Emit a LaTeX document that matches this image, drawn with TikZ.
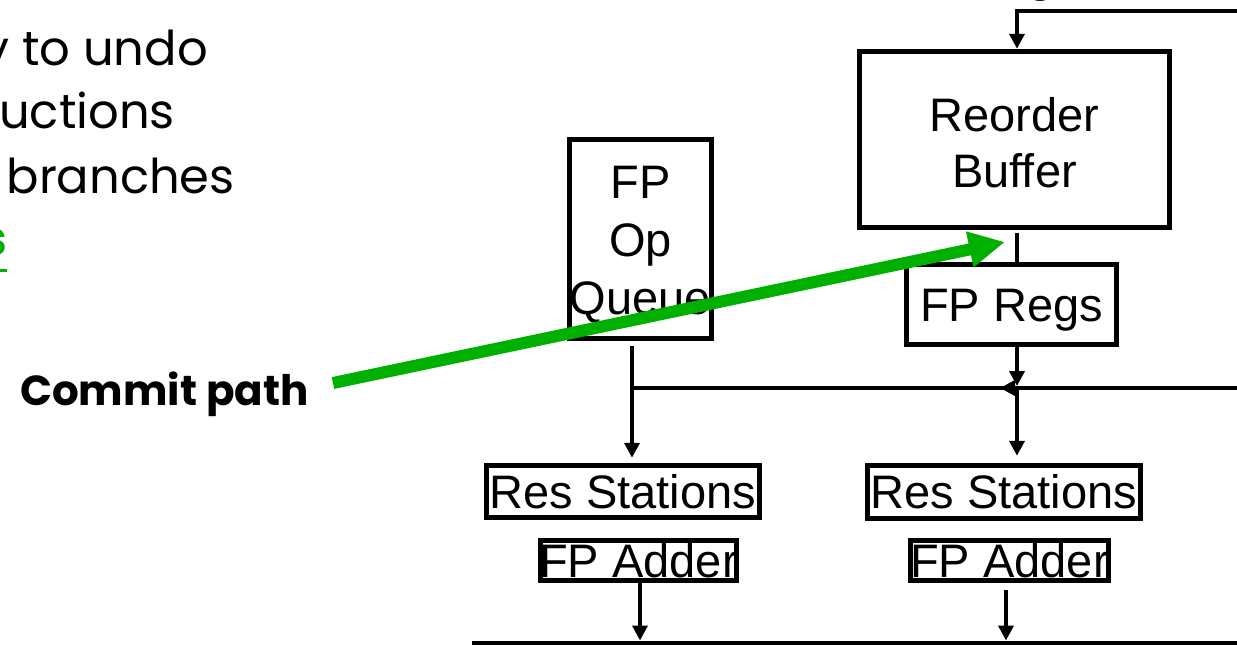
\documentclass[tikz,border=0pt]{standalone}
\usepackage{fontspec}
\setmainfont{Liberation Sans}
\newfontfamily\comic{Poppins}
\usetikzlibrary{arrows.meta}
\definecolor{cgreen}{RGB}{0,176,0}
\begin{document}
\begin{tikzpicture}[x=1pt,y=-1pt,
  box/.style={draw, line width=5pt, inner sep=0pt, align=center,
    font=\fontsize{47}{57}\selectfont},
  one/.style={text height=33.7pt, text depth=0pt},
  conn/.style={line width=4.5pt},
  arr/.style={conn, -{Triangle[length=15pt,width=15pt]}},
  garr/.style={cgreen, line width=12pt, -{Triangle[length=36pt,width=34pt]}},
  slide/.style={inner sep=0pt, font=\comic\fontsize{48}{60}\selectfont},
]
\useasboundingbox (0,0) rectangle (1237,645);

% left slide text (cropped at the picture's edge)
\node[slide, anchor=base east] (l1) at (208,65) {y to undo};
\node[slide, anchor=base east] (l2) at (175,128) {uctions};
\node[slide, anchor=base east] (l3) at (235,193) {branches};
\node[slide, anchor=base east, text=cgreen, font=\comic\bfseries\fontsize{48}{60}\selectfont] (l4) at (7,255) {s};
\draw[cgreen, line width=3pt] ([yshift=-15pt]l4.base west) -- ([yshift=-15pt]l4.base east);
\node[slide, anchor=base] (topg) at (1041,-12) {g};
\node[slide, anchor=base west, font=\comic\bfseries\fontsize{42}{50}\selectfont] (cp) at (20,405) {Commit path};

% boxes
\node[box, font=\fontsize{47}{56}\selectfont,
  minimum width=310.5pt, minimum height=176.5pt] (rob) at (1014.5,139.5) {\rule{0pt}{40.5pt}Reorder\\Buffer};
\node[box, font=\fontsize{47}{58}\selectfont,
  minimum width=142.5pt, minimum height=199.5pt] (queue) at (640.5,239) {\rule{0pt}{43.7pt}FP\\Op\\Queue};
\node[box, one, minimum width=210.5pt, minimum height=80.5pt] (regs) at (1011.5,304.5) {FP Regs};
\node[box, one, minimum width=273.5pt, minimum height=52.5pt] (rs1) at (623,491.5) {Res Stations};
\node[box, one, minimum width=273.5pt, minimum height=53.5pt] (rs2) at (1004,492) {Res Stations};
\node[box, one, minimum width=196.5pt, minimum height=40.5pt] (add1) at (638.5,560.5) {\makebox[0pt]{FP Adder}};
\node[box, one, minimum width=198.5pt, minimum height=40.5pt] (add2) at (1009.5,560.5) {\makebox[0pt]{FP Adder}};

% helper coordinates
\coordinate (x1) at (632,0);
\coordinate (x2) at (1017,0);
\coordinate (xa1) at (640,0);
\coordinate (xa2) at (1006,0);
\coordinate (topR) at (1240,11);
\coordinate (busR) at (1240,388);
\coordinate (busM) at (1000,388);
\coordinate (busL) at (630,388);
\coordinate (botL) at (472,643);
\coordinate (botR) at (1240,643);
\coordinate (gs) at (333,383);
\coordinate (gt) at (1005,242);

% connectors
\draw[arr] (topR) -| (x2 |- rob.north);
\draw[conn, shorten <=3pt] (x2 |- rob.south) -- (x2 |- regs.north);
\draw[arr] (x2 |- regs.south) -- ([yshift=2pt]x2 |- busR);
\draw[conn] (busR) -- (busL);
\draw[arr] (busR) -- (busM);
\draw[arr, shorten >=7pt] (x2 |- busR) -- (x2 |- rs2.north);
\draw[arr, shorten <=5pt, shorten >=5pt] (x1 |- queue.south) -- (x1 |- rs1.north);
\draw[arr] (xa1 |- add1.south) -- ([yshift=2.5pt]xa1 |- botL);
\draw[arr, shorten <=7pt] (xa2 |- add2.south) -- ([yshift=2.5pt]xa2 |- botL);
\draw[line width=5pt] (botL) -- (botR);

% commit path arrow
\draw[garr] (gs) -- (gt);
\end{tikzpicture}
\end{document}
